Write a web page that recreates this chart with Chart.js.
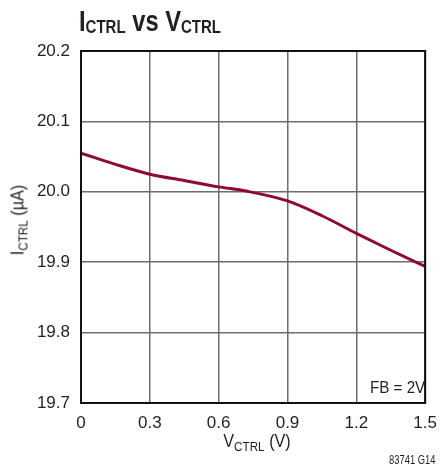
<!DOCTYPE html>
<html><head><meta charset="utf-8">
<script src="https://cdn.jsdelivr.net/npm/chart.js@4/dist/chart.umd.min.js"></script>
<style>
html,body{margin:0;padding:0;background:#fff;}
#wrap{position:relative;width:447px;height:473px;overflow:hidden;font-family:"Liberation Sans",Arial,sans-serif;color:#231f20;}
canvas{position:absolute;left:0;top:0;}
.t{position:absolute;white-space:nowrap;line-height:1;}
.title{left:79px;top:6px;font-size:30px;font-weight:bold;transform:scaleX(0.79);transform-origin:0 0;}
.title sub{font-size:19px;vertical-align:-2px;}
.xt{left:257px;top:432px;font-size:18px;transform:translateX(-50%) scaleX(0.9);}
.xt sub,.yt sub{font-size:13px;vertical-align:-4px;}
.yt{left:19px;top:220px;font-size:18px;transform:translate(-50%,-50%) rotate(-90deg) scaleX(0.9);}
.fb{right:22px;top:380px;font-size:16px;transform:scaleX(0.95);transform-origin:100% 0;}
.note{right:12px;top:454px;font-size:12px;transform:scaleX(0.78);transform-origin:100% 0;}
</style></head>
<body><div id="wrap">
<canvas id="c" width="447" height="473"></canvas>
<div class="t title">I<sub>CTRL</sub> vs V<sub>CTRL</sub></div>
<div class="t xt">V<sub>CTRL</sub> (V)</div>
<div class="t yt">I<sub>CTRL</sub> (µA)</div>
<div class="t fb">FB = 2V</div>
<div class="t note">83741 G14</div>
</div>
<script>
const vctrl = [0, 0.15, 0.3, 0.45, 0.6, 0.72, 0.9, 1.05, 1.2, 1.35, 1.5];
const ictrl = [20.055, 20.039, 20.025, 20.016, 20.007, 20.001, 19.987, 19.966, 19.941, 19.917, 19.894];
const xTicks = [0, 0.3, 0.6, 0.9, 1.2, 1.5];
const yTicks = [19.7, 19.8, 19.9, 20.0, 20.1, 20.2];

const FONT = '"Liberation Sans",Arial,sans-serif';
const frame = {
  id:'frame',
  afterDraw(chart){
    const a = chart.chartArea, ctx = chart.ctx;
    ctx.save();
    ctx.strokeStyle = '#111';
    ctx.lineWidth = 2;
    ctx.strokeRect(a.left, a.top, a.right - a.left, a.bottom - a.top);
    ctx.restore();
  }
};
new Chart(document.getElementById('c'), {
  type:'line',
  data:{datasets:[{
    data: vctrl.map((x,i)=>({x, y: ictrl[i]})),
    borderColor:'#8c0b2e',
    borderWidth:3,
    pointRadius:0,
    cubicInterpolationMode:'monotone',
    fill:false
  }]},
  options:{
    responsive:false,
    animation:false,
    devicePixelRatio:1,
    layout:{padding:{left:0, right:15, top:51, bottom:0}},
    plugins:{legend:{display:false}, tooltip:{enabled:false}, title:{display:false}},
    scales:{
      x:{
        type:'linear', min:0, max:1.5,
        afterBuildTicks(s){ s.ticks = xTicks.map(v=>({value:v})); },
        afterFit(s){ s.height = 70; },
        grid:{color:'#6d6d6d', lineWidth:1.5, drawTicks:false},
        border:{display:false},
        ticks:{padding:10, color:'#231f20', font:{family:FONT, size:17},
          callback:(v)=> v===0 ? '0' : v.toFixed(1)}
      },
      y:{
        type:'linear', min:19.7, max:20.2,
        afterBuildTicks(s){ s.ticks = yTicks.map(v=>({value:v})); },
        afterFit(s){ s.width = 81; },
        grid:{color:'#6d6d6d', lineWidth:1.5, drawTicks:false},
        border:{display:false},
        ticks:{padding:11, color:'#231f20', font:{family:FONT, size:17},
          callback:(v)=> v.toFixed(1)}
      }
    }
  },
  plugins:[frame]
});
</script>
</body></html>
